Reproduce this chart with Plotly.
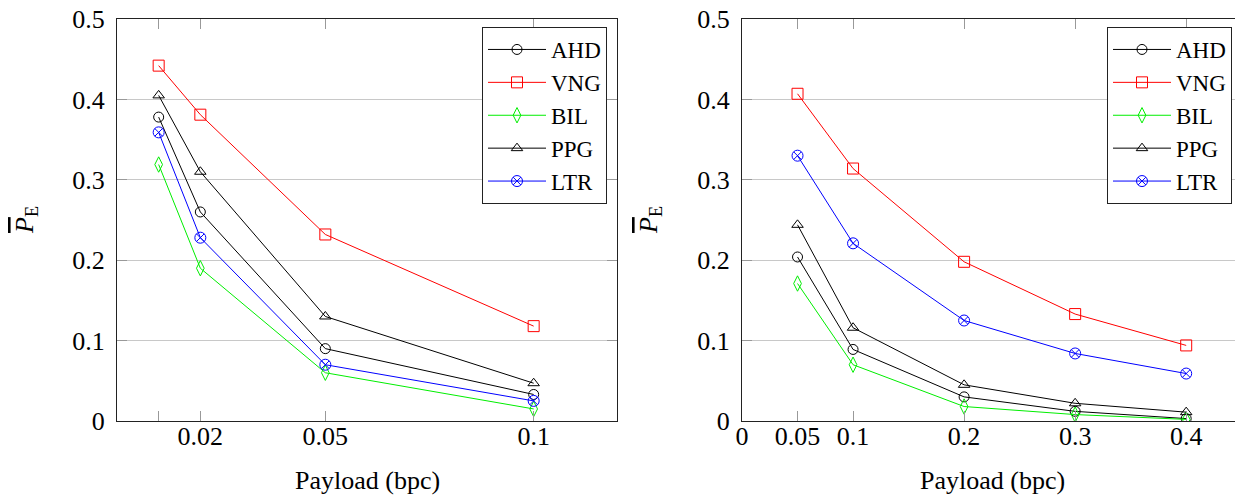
import plotly.graph_objects as go

W, H = 1235, 495

methods = ["AHD", "VNG", "BIL", "PPG", "LTR"]

# Left panel
payload_a = [0.01, 0.02, 0.05, 0.1]
ahd_a = [0.378, 0.260, 0.090, 0.033]
vng_a = [0.442, 0.381, 0.232, 0.118]
bil_a = [0.319, 0.190, 0.060, 0.015]
ppg_a = [0.405, 0.310, 0.130, 0.047]
ltr_a = [0.359, 0.228, 0.070, 0.025]

# Right panel
payload_b = [0.05, 0.1, 0.2, 0.3, 0.4]
ahd_b = [0.204, 0.089, 0.030, 0.012, 0.003]
vng_b = [0.407, 0.314, 0.198, 0.133, 0.094]
bil_b = [0.171, 0.070, 0.018, 0.008, 0.002]
ppg_b = [0.244, 0.116, 0.045, 0.022, 0.011]
ltr_b = [0.330, 0.221, 0.125, 0.084, 0.059]

xticks_a = [0.01, 0.02, 0.05, 0.1]
xticktext_a = ["", "0.02", "0.05", "0.1"]
xticks_b = [0, 0.05, 0.1, 0.2, 0.3, 0.4]
xticktext_b = ["0", "0.05", "0.1", "0.2", "0.3", "0.4"]
yticks = [0, 0.1, 0.2, 0.3, 0.4, 0.5]
yticktext = ["0", "0.1", "0.2", "0.3", "0.4", "0.5"]

x_title = "Payload (bpc)"
y_title = '<span style="text-decoration:overline"><i>P</i></span><sub>E</sub>'

styles = {
    "AHD": dict(color="#000000", symbol="circle-open", size=10),
    "VNG": dict(color="#ff0000", symbol="square-open", size=11),
    "BIL": dict(color="#00ee00", symbol="diamond-tall-open", size=11),
    "PPG": dict(color="#000000", symbol="triangle-up-open", size=10),
    "LTR": dict(color="#0000ff", symbol="circle-x-open", size=11),
}

data_a = dict(AHD=ahd_a, VNG=vng_a, BIL=bil_a, PPG=ppg_a, LTR=ltr_a)
data_b = dict(AHD=ahd_b, VNG=vng_b, BIL=bil_b, PPG=ppg_b, LTR=ltr_b)

FONT = "Liberation Serif"
FS = 26
LFS = 23

fig = go.Figure()
for m in methods:
    s = styles[m]
    fig.add_trace(go.Scatter(
        x=payload_a, y=data_a[m], name=m, mode="lines+markers",
        line=dict(color=s["color"], width=1),
        marker=dict(symbol=s["symbol"], size=s["size"], color=s["color"],
                    line=dict(color=s["color"], width=1)),
        xaxis="x", yaxis="y", legend="legend"))
for m in methods:
    s = styles[m]
    fig.add_trace(go.Scatter(
        x=payload_b, y=data_b[m], name=m, mode="lines+markers",
        line=dict(color=s["color"], width=1),
        marker=dict(symbol=s["symbol"], size=s["size"], color=s["color"],
                    line=dict(color=s["color"], width=1)),
        xaxis="x2", yaxis="y2", legend="legend2"))

L0, R0 = 117, 617
L1, R1 = 742, 1242          # right frame runs slightly past the window
TOP, BOT = 19, 421
px_per_unit_b = 1110.5
xmax_b = (W - L1) / px_per_unit_b
plot_h = BOT - TOP


def py(ypx):
    return (BOT - ypx) / plot_h


axis_common = dict(
    showline=True, linecolor="#222", linewidth=1,
    ticks="inside", ticklen=10, tickcolor="#999", tickwidth=1,
    zeroline=False, automargin=False,
    tickfont=dict(family=FONT, size=FS, color="black"),
)

legend_common = dict(
    xanchor="right", y=py(27), yanchor="top",
    bordercolor="#222", borderwidth=1, bgcolor="white",
    font=dict(family=FONT, size=LFS), itemwidth=58,
)

fig.update_layout(
    width=W, height=H,
    margin=dict(l=0, r=0, t=TOP, b=H - BOT),
    paper_bgcolor="white", plot_bgcolor="white",
    font=dict(family=FONT, size=FS, color="black"),
    xaxis=dict(domain=[L0 / W, R0 / W], range=[0, 0.12], tickvals=xticks_a,
               ticktext=xticktext_a, showgrid=False, mirror="ticks",
               ticklabelstandoff=-8, **axis_common),
    yaxis=dict(domain=[0, 1], range=[0, 0.5], tickvals=yticks, ticktext=yticktext,
               showgrid=True, gridcolor="#c8c8c8", gridwidth=1, mirror="ticks",
               ticklabelstandoff=6, anchor="x", **axis_common),
    xaxis2=dict(domain=[L1 / W, 1.0], range=[0, xmax_b], tickvals=xticks_b,
                ticktext=xticktext_b, showgrid=False, mirror="ticks", anchor="y2",
                ticklabelstandoff=-8, **axis_common),
    yaxis2=dict(domain=[0, 1], range=[0, 0.5], tickvals=yticks, ticktext=yticktext,
                showgrid=True, gridcolor="#c8c8c8", gridwidth=1, mirror=False,
                ticklabelstandoff=6, anchor="x2", **axis_common),
    legend=dict(x=607 / W, **legend_common),
    legend2=dict(x=1232 / W, **legend_common),
    showlegend=True,
)

title_font = dict(family=FONT, size=26, color="black")
for cx in [(L0 + R0) / 2, (L1 + R1) / 2]:
    fig.add_annotation(text=x_title, xref="paper", yref="paper",
                       x=cx / W, y=py(480), xanchor="center", yanchor="middle",
                       showarrow=False, font=title_font)
for cx in [26, 650]:
    fig.add_annotation(text=y_title, xref="paper", yref="paper",
                       x=cx / W, y=0.5, xanchor="center", yanchor="middle",
                       textangle=-90, showarrow=False,
                       font=dict(family=FONT, size=26, color="black"))

# remove the browser's default 8px body margin so the figure fills the window
fig.write_html("out.html", config={"displayModeBar": False},
               post_script="document.body.style.margin='0px';")
